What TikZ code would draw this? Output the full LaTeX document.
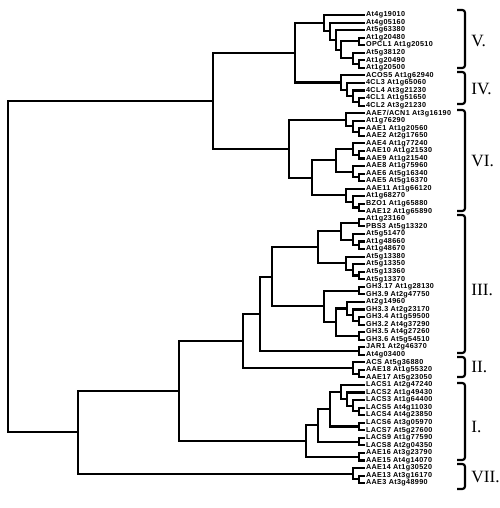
\documentclass[tikz,border=0pt]{standalone}
\usepackage{fontspec}
\usepackage{tikz}
\usetikzlibrary{calc}
\newfontfamily\leaffont[LetterSpace=5]{Liberation Sans}
\newfontfamily\groupfont{Liberation Serif}

\tikzset{
    branch/.style={line width=1.2pt, line cap=rect},
    leaf/.style={anchor=west, inner xsep=1pt, inner ysep=0.5pt,
                 font=\leaffont\fontsize{4.1}{4.5}\selectfont\bfseries},
    groupbrace/.style={line width=1.2pt, rounded corners=1.5pt},
    grouplabel/.style={anchor=west, inner sep=0pt,
                       font=\groupfont\fontsize{9.8}{10}\selectfont}
}

% join two children (#3, #4) at x = #2, vertical middle of them
\newcommand{\clade}[4]{%
    \coordinate (#1) at (perpendicular cs: horizontal line through={($(#3)!0.5!(#4)$)},
                                           vertical line through={(#2,0)});
    \draw[branch] (#3) -| (#1) |- (#4);
}

\begin{document}
\begin{tikzpicture}[x=0.02cm, y=-0.02cm]
    \useasboundingbox (0,0) rectangle (500,508);

    % leaves
    \foreach \lab [count=\i] in {At4g19010, At4g05160, At5g63380, At1g20480, OPCL1 At1g20510,
        At5g38120, At1g20490, At1g20500, ACOS5 At1g62940, 4CL3 At1g65060, 4CL4 At3g21230,
        4CL1 At1g51650, 4CL2 At3g21230, AAE7/ACN1 At3g16190, At1g76290, AAE1 At1g20560,
        AAE2 At2g17650, AAE4 At1g77240, AAE10 At1g21530, AAE9 At1g21540, AAE8 At1g75960,
        AAE6 At5g16340, AAE5 At5g16370, AAE11 At1g66120, At1g68270, BZO1 At1g65880,
        AAE12 At1g65890, At1g23160, PBS3 At5g13320, At5g51470, At1g48660, At1g48670,
        At5g13380, At5g13350, At5g13360, At5g13370, GH3.17 At1g28130, GH3.9 At2g47750,
        At2g14960, GH3.3 At2g23170, GH3.4 At1g59500, GH3.2 At4g37290, GH3.5 At4g27260,
        GH3.6 At5g54510, JAR1 At2g46370, At4g03400, ACS At5g36880, AAE18 At1g55320,
        AAE17 At5g23050, LACS1 At2g47240, LACS2 At1g49430, LACS3 At1g64400,
        LACS5 At4g11030, LACS4 At4g23850, LACS6 At3g05970, LACS7 At5g27600,
        LACS9 At1g77590, LACS8 At2g04350, AAE16 At3g23790, AAE15 At4g14070,
        AAE14 At1g30520, AAE13 At3g16170, AAE3 At3g48990}
        \node[leaf] (l\i) at (364, {15+(\i-1)*7.55}) {\lab};

    % group V
    \clade{va}{359}{l4}{l5}
    \clade{vb}{359}{l7}{l8}
    \clade{vc}{353}{l6}{vb}
    \clade{vd}{341}{va}{vc}
    \clade{ve}{336}{l3}{vd}
    \clade{vf}{330}{l2}{ve}
    \clade{cladeV}{324}{l1}{vf}
    % group IV
    \clade{iva}{359}{l12}{l13}
    \clade{ivb}{353}{l11}{iva}
    \clade{ivc}{347}{l10}{ivb}
    \clade{cladeIV}{341}{l9}{ivc}
    \clade{vandiv}{295}{cladeV}{cladeIV}
    % group VI
    \clade{via}{359}{l16}{l17}
    \clade{vib}{353}{l15}{via}
    \clade{vic}{346}{l14}{vib}
    \clade{vid}{359}{l19}{l20}
    \clade{vie}{353}{l18}{vid}
    \clade{vif}{359}{l22}{l23}
    \clade{vig}{353}{l21}{vif}
    \clade{vih}{336}{vie}{vig}
    \clade{vii}{359}{l26}{l27}
    \clade{vij}{353}{l25}{vii}
    \clade{vik}{346}{l24}{vij}
    \clade{vil}{312}{vih}{vik}
    \clade{cladeVI}{289}{vic}{vil}
    \clade{upper}{213}{vandiv}{cladeVI}
    % group III
    \clade{iiia}{359}{l28}{l29}
    \clade{iiib}{359}{l31}{l32}
    \clade{iiic}{353}{l30}{iiib}
    \clade{iiid}{341}{iiia}{iiic}
    \clade{iiie}{359}{l35}{l36}
    \clade{iiif}{353}{l34}{iiie}
    \clade{iiig}{346}{l33}{iiif}
    \clade{iiih}{318}{iiid}{iiig}
    \clade{iiii}{359}{l37}{l38}
    \clade{iiij}{359}{l41}{l42}
    \clade{iiik}{353}{l40}{iiij}
    \clade{iiil}{347}{l39}{iiik}
    \clade{iiim}{359}{l43}{l44}
    \clade{iiin}{336}{iiil}{iiim}
    \clade{iiio}{324}{iiii}{iiin}
    \clade{iiip}{272}{iiih}{iiio}
    \clade{iiiq}{359}{l45}{l46}
    \clade{cladeIII}{260}{iiip}{iiiq}
    % group II
    \clade{iia}{359}{l48}{l49}
    \clade{cladeII}{353}{l47}{iia}
    \clade{iiiandii}{243}{cladeIII}{cladeII}
    % group I
    \clade{ia}{359}{l53}{l54}
    \clade{ib}{353}{l52}{ia}
    \clade{ic}{347}{l51}{ib}
    \clade{id}{341}{l50}{ic}
    \clade{ie}{359}{l55}{l56}
    \clade{if}{330}{id}{ie}
    \clade{ig}{359}{l57}{l58}
    \clade{ih}{318}{if}{ig}
    \clade{ij}{359}{l59}{l60}
    \clade{cladeI}{306}{ih}{ij}
    \clade{middle}{179}{iiiandii}{cladeI}
    % group VII
    \clade{viia}{359}{l62}{l63}
    \clade{cladeVII}{353}{l61}{viia}
    \clade{lower}{78}{middle}{cladeVII}
    \clade{root}{8}{upper}{lower}

    % group brackets
    \foreach \top/\bot/\ly/\txt [count=\i] in {10/68/41/V., 72/104/89/IV., 110/211/161/VI.,
        215/353/290/III., 357/377/367/II., 383/460/427/I., 464/489/477/VII.} {
        \draw[groupbrace] (457,\top) -- (465,\top) -- (465,\bot) -- (457,\bot);
        \node[grouplabel] (grp\i) at (471,\ly) {\txt};
    }
\end{tikzpicture}
\end{document}
